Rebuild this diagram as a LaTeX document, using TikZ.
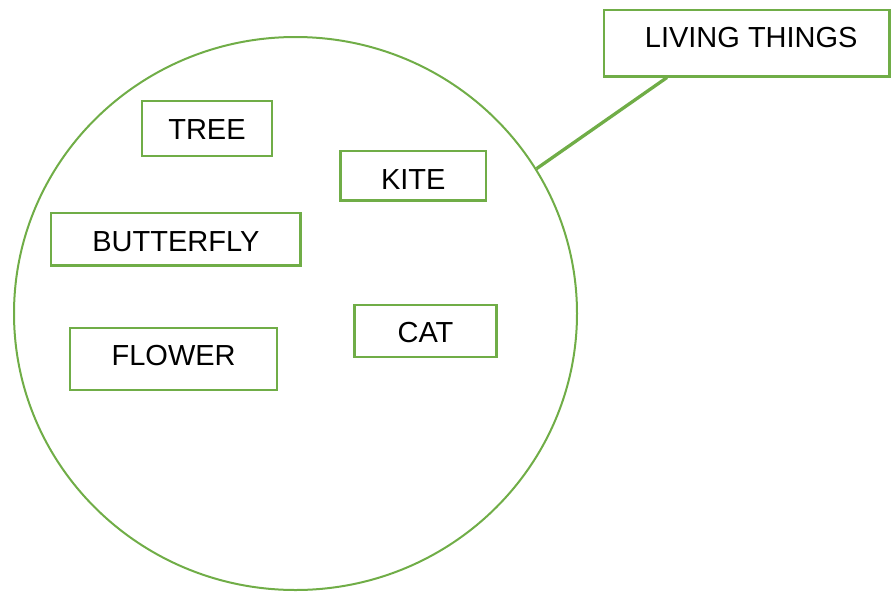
\documentclass[tikz,border=0pt]{standalone}
\usepackage{fontspec}
\setmainfont{Liberation Sans}
\usetikzlibrary{shapes.geometric}
\definecolor{lgreen}{HTML}{70AD47}
\newcommand{\tbox}[7]{%
  \node[boxstyle, minimum width=#4pt, minimum height=#5pt, anchor=north west] (#1) at (#2,#3) {};
  \node[labstyle] (#1-t) at ([yshift=-#7pt]#1.north) {#6};
}
\begin{document}
\begin{tikzpicture}[x=1pt,y=-1pt,
  boxstyle/.style={draw=lgreen, line width=2.5pt, rectangle, inner sep=0pt, outer sep=0pt, fill=white},
  labstyle/.style={anchor=base, inner sep=0pt, font=\fontsize{29}{34}\selectfont, text=black},
  circstyle/.style={draw=lgreen, line width=2pt, ellipse, inner sep=0pt, minimum width=563pt, minimum height=553pt},
  conn/.style={draw=lgreen, line width=3.3pt}]
\useasboundingbox (0,0) rectangle (892,592);
\node[circstyle] (circ) at (295.5,313.5) {};
\tbox{living}{604}{10}{285.5}{66.5}{\hspace*{9pt}LIVING THINGS}{37.5}
\tbox{tree}{141.8}{101.1}{130.4}{55.1}{TREE}{38.5}
\tbox{kite}{340.4}{151.1}{145.8}{49.5}{KITE}{38}
\tbox{butterfly}{51.1}{212.8}{249.5}{52.8}{BUTTERFLY}{39}
\tbox{flower}{70.1}{327.8}{207.1}{62.1}{FLOWER}{37.5}
\tbox{cat}{354.4}{305.1}{142.2}{52.1}{CAT}{37.5}
\coordinate (lt) at (667,77.5);
\draw[conn] (lt) -- (circ.31);
\end{tikzpicture}
\end{document}
